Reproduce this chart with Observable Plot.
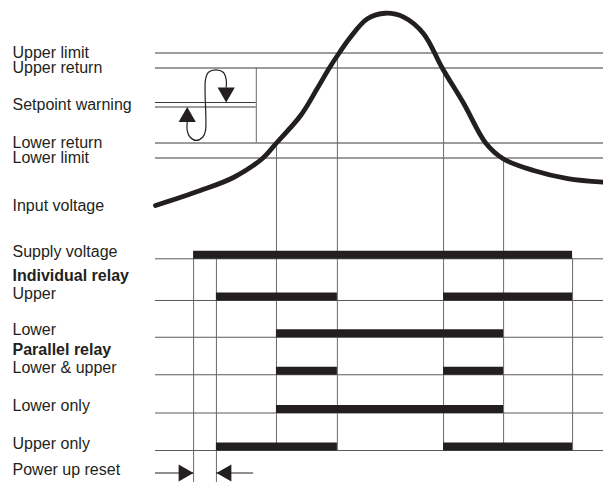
<!DOCTYPE html>
<html><head><meta charset="utf-8">
<script src="https://cdn.jsdelivr.net/npm/d3@7"></script>
<script src="https://cdn.jsdelivr.net/npm/@observablehq/plot@0.6"></script>
<style>html,body{margin:0;padding:0;background:#fff}svg{display:block}</style>
</head><body><div id="chart"></div>
<script>
// ---- time axis (arbitrary units) : events ----
const tStart = 0, tEnd = 100;
const tSupplyOn = 8.5, tResetEnd = 13.6, tLowerReturnUp = 27, tUpperLimitUp = 40.6,
      tUpperReturnDown = 64.3, tLowerLimitDown = 77.7, tSupplyOff = 93.1;

// ---- input-voltage section (level units) ----
const thresholdNames = ["Upper limit", "Upper return", "Lower return", "Lower limit"];
const thresholdLevels = [12, 11, 6, 5];
const setpointLabel = "Setpoint warning";
const setpointLevels = [8.7, 8.4];
const hysteresisEnd = 22.5;

const inputLabel = "Input voltage";
const inputT = [0, 10, 17.4, 23.8, 27, 32.4, 36.1, 38.8, 41.0, 43.5, 47.3, 51.3, 55.4, 59.8, 64.0, 68.8, 73.7, 77.6, 84.4, 92, 100];
const inputV = [1.83, 2.83, 3.7, 4.95, 6.0, 7.83, 9.63, 11.0, 12.0, 13.05, 14.28, 14.65, 14.39, 13.3, 11.0, 8.63, 6.0, 4.95, 4.17, 3.63, 3.39];

// hysteresis symbol (S-loop)
const loopT = [7.08, 7.08, 7.68, 9.11, 10.56, 11.16, 11.16, 11.83, 13.46, 15.11, 15.78, 15.78];
const loopV = [7.39, 6.83, 6.4, 6.17, 6.4, 6.83, 10.23, 10.72, 10.88, 10.72, 10.23, 9.72];
const arrowUpAt = [7.08, 8.4];
const arrowDownAt = [15.78, 8.7];

// ---- relay section ----
const rowNames = ["Supply voltage", "Upper", "Lower", "Lower & upper", "Lower only", "Upper only"];
const rowLevels = [-1.72, -4.5, -6.95, -9.45, -12, -14.5];
const rowOn  = [[tSupplyOn], [tResetEnd, tUpperReturnDown], [tLowerReturnUp], [tLowerReturnUp, tUpperReturnDown], [tLowerReturnUp], [tResetEnd, tUpperReturnDown]];
const rowOff = [[tSupplyOff], [tUpperLimitUp, tSupplyOff], [tLowerLimitDown], [tUpperLimitUp, tLowerLimitDown], [tLowerLimitDown], [tUpperLimitUp, tSupplyOff]];
const groupNames = ["Individual relay", "Parallel relay"];
const groupRows = [1, 3];
const resetLabel = "Power up reset";
const resetLevel = -16;
const resetLeadOut = 8.3;

const yMin = -16.633, yMax = 15.5, xMin = -34.598;

// ---- derived tables ----
const events = [
  {t: tSupplyOn, top: rowLevels[0], bottom: yMin},
  {t: tResetEnd, top: rowLevels[0], bottom: yMin},
  {t: tLowerReturnUp, top: thresholdLevels[2], bottom: rowLevels[5]},
  {t: tUpperLimitUp, top: thresholdLevels[0], bottom: rowLevels[5]},
  {t: tUpperReturnDown, top: thresholdLevels[1], bottom: rowLevels[5]},
  {t: tLowerLimitDown, top: thresholdLevels[3], bottom: rowLevels[5]},
  {t: tSupplyOff, top: rowLevels[0], bottom: rowLevels[5]}
];
const bars = rowOn.flatMap((ons, i) => ons.map((on, j) => ({level: rowLevels[i], on, off: rowOff[i][j]})));
const input = inputT.map((t, i) => ({t, v: inputV[i]}));
const loop = loopT.map((t, i) => ({t, v: loopV[i]}));
const ink = "#231f20";

const chart = Plot.plot({
  width: 603, height: 482, margin: 0,
  x: {domain: [xMin, tEnd], axis: null},
  y: {domain: [yMin, yMax], axis: null},
  style: {fontFamily: "'Liberation Sans', Arial, Helvetica, sans-serif", fontSize: "16px", color: ink, background: "#fff"},
  marks: [
    // horizontal thresholds
    Plot.ruleY(thresholdLevels, {x1: tStart, x2: tEnd, stroke: "#3a3a3a", strokeWidth: 1}),
    Plot.ruleY(setpointLevels, {x1: tStart, x2: hysteresisEnd, stroke: "#3a3a3a", strokeWidth: 1}),
    Plot.ruleX([hysteresisEnd], {y1: thresholdLevels[1], y2: thresholdLevels[2], stroke: "#6a6a6a", strokeWidth: 1}),
    // row baselines
    Plot.ruleY(rowLevels, {x1: tStart, x2: tEnd, stroke: "#5a5a5a", strokeWidth: 1}),
    // event verticals
    Plot.ruleX(events, {x: "t", y1: "top", y2: "bottom", stroke: "#6a6a6a", strokeWidth: 1}),
    // relay bars
    Plot.ruleY(bars, {y: "level", x1: "on", x2: "off", stroke: ink, strokeWidth: 8, dy: -4}),
    // input voltage curve
    Plot.line(input, {x: "t", y: "v", curve: "catmull-rom", stroke: ink, strokeWidth: 4.8}),
    // hysteresis symbol
    Plot.line(loop, {x: "t", y: "v", curve: "catmull-rom", stroke: ink, strokeWidth: 1.2}),
    Plot.dot([arrowUpAt], {x: d => d[0], y: d => d[1], symbol: "triangle", r: 6.4, fill: ink, stroke: null, dy: 10}),
    Plot.dot([arrowDownAt], {x: d => d[0], y: d => d[1], symbol: "triangle", r: 6.4, fill: ink, stroke: null, rotate: 180, dy: -10}),
    // power up reset arrows
    Plot.ruleY([resetLevel], {x1: tStart, x2: tSupplyOn, stroke: ink, strokeWidth: 1.2}),
    Plot.ruleY([resetLevel], {x1: tResetEnd, x2: tResetEnd + resetLeadOut, stroke: ink, strokeWidth: 1.2}),
    Plot.dot([tSupplyOn], {x: d => d, y: resetLevel, symbol: "triangle", r: 6.4, fill: ink, stroke: null, rotate: 90, dx: -10}),
    Plot.dot([tResetEnd], {x: d => d, y: resetLevel, symbol: "triangle", r: 6.4, fill: ink, stroke: null, rotate: -90, dx: 10}),
    // labels
    Plot.text(thresholdNames, {y: thresholdLevels, text: d => d, frameAnchor: "left", dx: 12, textAnchor: "start", lineAnchor: "middle", fill: ink}),
    Plot.text([setpointLabel], {y: (setpointLevels[0] + setpointLevels[1]) / 2, text: d => d, frameAnchor: "left", dx: 12, textAnchor: "start", lineAnchor: "middle", fill: ink}),
    Plot.text([inputLabel], {y: inputV[0], text: d => d, frameAnchor: "left", dx: 12, textAnchor: "start", lineAnchor: "middle", fill: ink}),
    Plot.text(rowNames, {y: rowLevels, text: d => d, frameAnchor: "left", dx: 12, textAnchor: "start", lineAnchor: "bottom", dy: -2, fill: ink}),
    Plot.text(groupNames, {y: groupRows.map(i => rowLevels[i]), text: d => d, frameAnchor: "left", dx: 12, textAnchor: "start", lineAnchor: "bottom", dy: -20, fontWeight: "bold", fill: ink}),
    Plot.text([resetLabel], {y: resetLevel, text: d => d, frameAnchor: "left", dx: 12, textAnchor: "start", lineAnchor: "bottom", dy: 2, fill: ink})
  ]
});
document.getElementById("chart").appendChild(chart);
</script>
</body></html>
